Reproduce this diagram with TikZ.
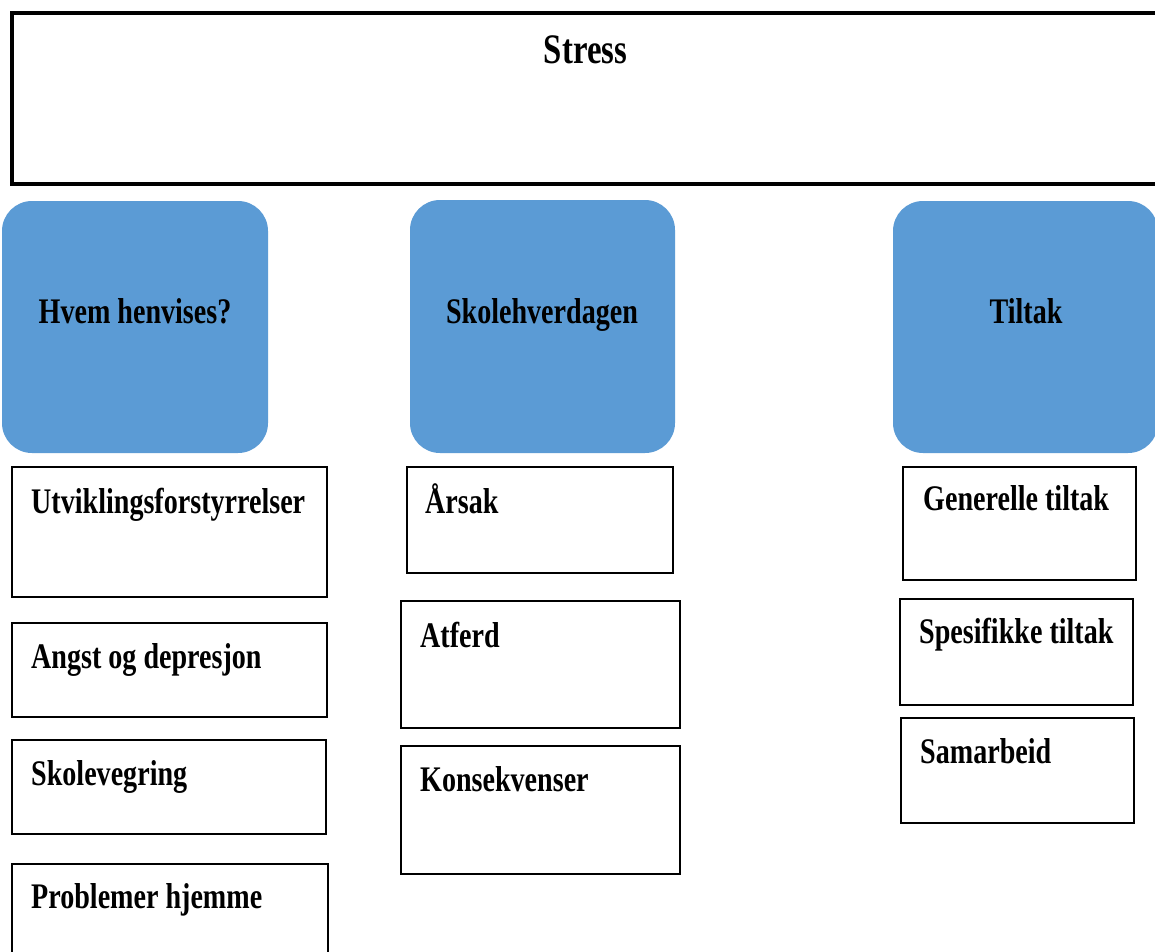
\documentclass[tikz,border=0pt]{standalone}
\usepackage{fontspec}
\newfontfamily\diafont{Liberation Serif}[FakeStretch=0.78]
\usepackage{tikz}
\usepackage{xcolor}
\definecolor{tileblue}{HTML}{5B9BD5}

\begin{document}
\begin{tikzpicture}[x=1pt,y=-1pt,
  every node/.style={font=\diafont\bfseries\fontsize{36}{40}\selectfont},
  frame/.style={draw, line width=2.8pt, fill=white, inner sep=0pt},
  tile/.style={fill=tileblue, rounded corners=30pt, inner sep=0pt},
  head/.style={anchor=base, inner sep=0pt},
  item/.style={anchor=base west, inner sep=0pt}]
\clip (0,0) rectangle (1155,951);
\fill[white] (0,0) rectangle (1155,951);
% top box
\node[frame, line width=3.2pt, minimum width=1170pt, minimum height=171pt] (stress) at (597,98.5) {};
\node[head, font=\diafont\bfseries\fontsize{42}{46}\selectfont] (stresstxt) at (585.5,63) {Stress};
% blue headers
\node[tile, minimum width=266pt, minimum height=252pt] (hvem) at (135,327) {};
\node[head] (hvemtxt) at (135,323) {Hvem henvises?};
\node[tile, minimum width=265pt, minimum height=253pt] (skole) at (542.5,326.5) {};
\node[head] (skoletxt) at (542,323) {Skolehverdagen};
\node[tile, minimum width=265pt, minimum height=252pt] (tiltak) at (1025.5,327) {};
\node[head] (tiltaktxt) at (1026,323) {Tiltak};
% left column
\node[frame, minimum width=315pt, minimum height=130pt] (utv) at (169.5,532) {};
\node[item] (utvtxt) at (31,513) {Utviklingsforstyrrelser};
\node[frame, minimum width=315pt, minimum height=94pt] (angst) at (169.5,670) {};
\node[item] (angsttxt) at (31,668) {Angst og depresjon};
\node[frame, minimum width=314pt, minimum height=94pt] (vegring) at (169,787) {};
\node[item] (vegringtxt) at (31,785) {Skolevegring};
\node[frame, minimum width=316pt, minimum height=130pt] (hjemme) at (170,929) {};
\node[item] (hjemmetxt) at (31,908) {Problemer hjemme};
% middle column
\node[frame, minimum width=266pt, minimum height=106pt] (arsak) at (540,520) {};
\node[item] (arsaktxt) at (425,513) {Årsak};
\node[frame, minimum width=279pt, minimum height=127pt] (atferd) at (540.5,664.5) {};
\node[item] (atferdtxt) at (420,647) {Atferd};
\node[frame, minimum width=279pt, minimum height=128pt] (kons) at (540.5,810) {};
\node[item] (konstxt) at (420,791) {Konsekvenser};
% right column
\node[frame, minimum width=233pt, minimum height=113pt] (gen) at (1019.5,523.5) {};
\node[item] (gentxt) at (923,510) {Generelle tiltak};
\node[frame, minimum width=233pt, minimum height=106pt] (spes) at (1016.5,652) {};
\node[item] (spestxt) at (919,643) {Spesifikke tiltak};
\node[frame, minimum width=233pt, minimum height=105pt] (sam) at (1017.5,770.5) {};
\node[item] (samtxt) at (920,763) {Samarbeid};
\end{tikzpicture}
\end{document}
